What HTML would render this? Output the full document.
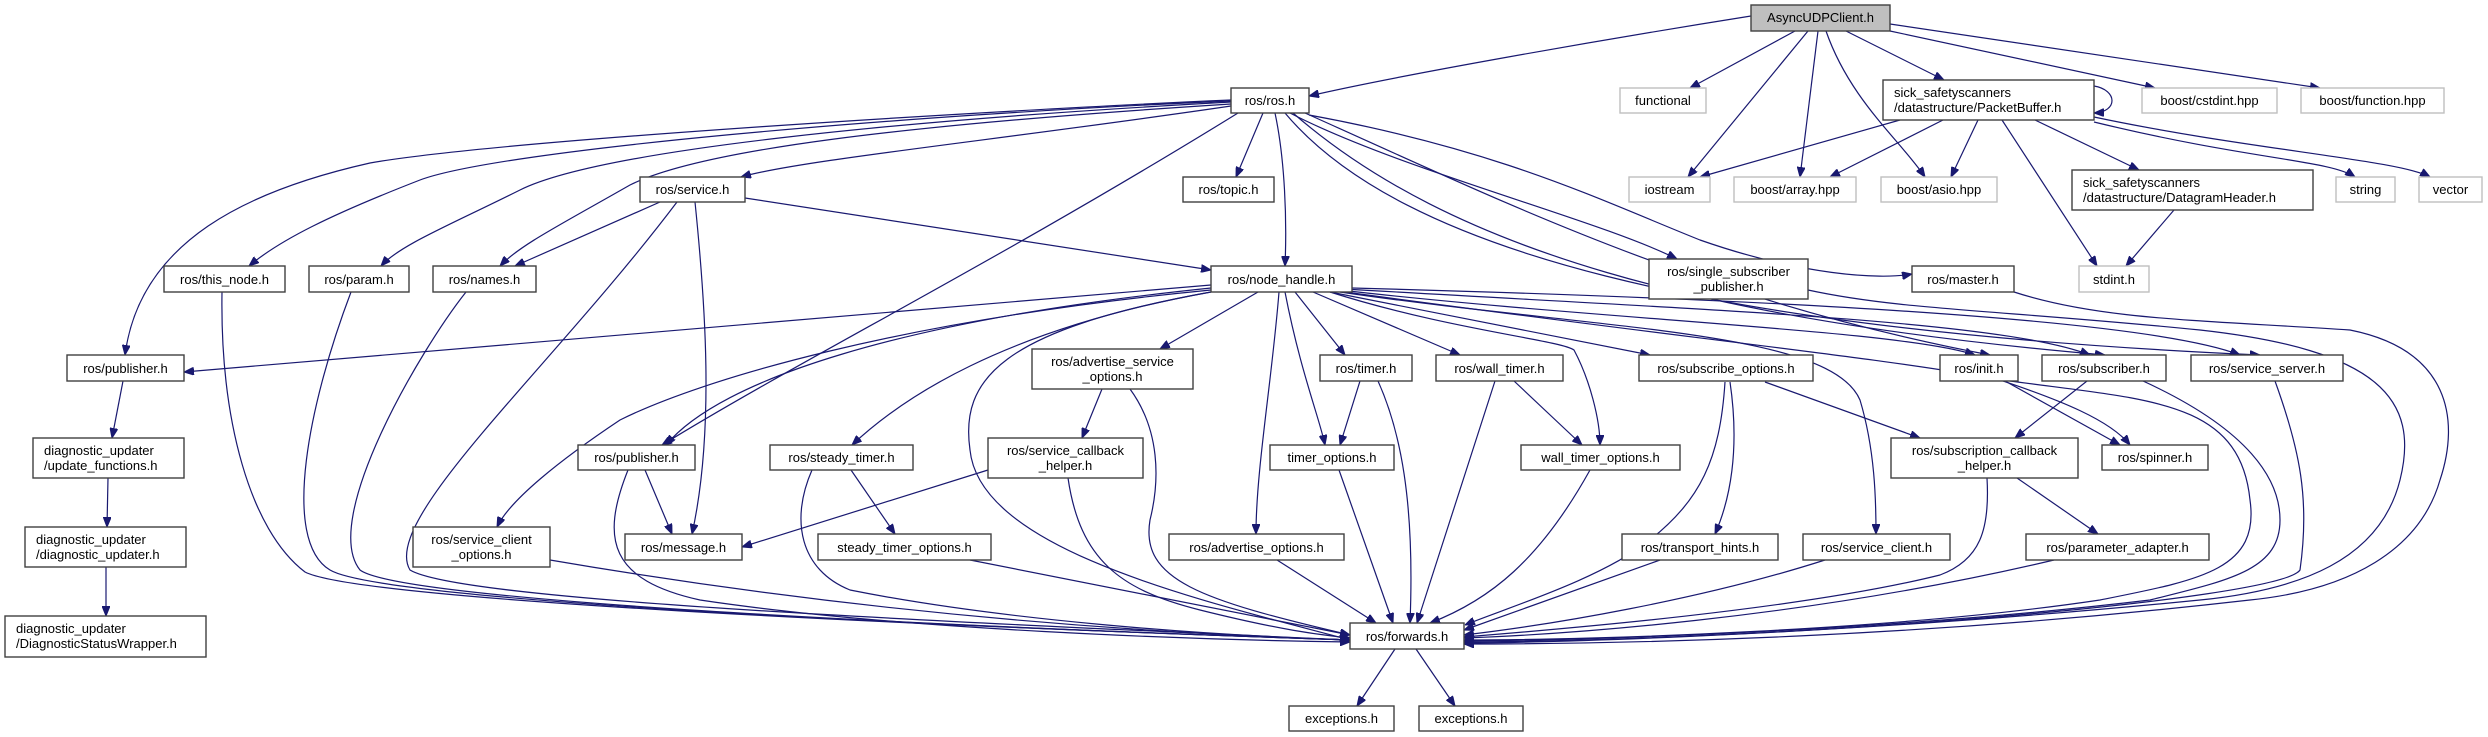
<!DOCTYPE html>
<html><head><meta charset="utf-8"><style>
html,body{margin:0;padding:0;background:#fff;}
svg{display:block;}
text{font-family:"Liberation Sans",sans-serif;font-size:13px;fill:#000;}
.e{fill:none;stroke:#191970;stroke-width:1.2;}
.n{fill:#fff;stroke:#404040;stroke-width:1.4;}
.g{fill:#fff;stroke:#bfbfbf;stroke-width:1.4;}
</style></head><body>
<svg width="2488" height="737" viewBox="0 0 2488 737" xmlns="http://www.w3.org/2000/svg">
<defs><marker id="a" viewBox="0 0 10 8" refX="10" refY="4" markerWidth="10" markerHeight="8" orient="auto" markerUnits="userSpaceOnUse"><path d="M0,0 L10,4 L0,8 z" fill="#191970" stroke="#191970"/></marker></defs>
<g class="e" marker-end="url(#a)">
<path d="M1751,16 C1600,40 1400,75 1309,96"/>
<path d="M1795,31 L1690,88"/>
<path d="M1808,31 L1688,177"/>
<path d="M1818,31 L1800,177"/>
<path d="M1826,31 C1850,100 1900,140 1925,177"/>
<path d="M1846,31 L1944,80"/>
<path d="M1890,31 L2155,88"/>
<path d="M1890,24 L2320,88"/>
<path d="M2094,86 C2118,90 2118,112 2094,113"/>
<path d="M1900,120 L1700,177"/>
<path d="M1943,120 L1830,177"/>
<path d="M1978,120 L1951,177"/>
<path d="M2002,120 L2097,266"/>
<path d="M2035,120 L2139,170"/>
<path d="M2094,122 C2250,160 2330,160 2355,177"/>
<path d="M2094,117 C2250,150 2400,160 2430,177"/>
<path d="M2174,210 L2126,266"/>
<path d="M1231,100 C1000,110 500,140 370,163 C250,190 140,240 125,355"/>
<path d="M1231,101 C900,115 500,150 420,180 C330,215 280,240 249,266"/>
<path d="M1231,102 C900,120 600,150 520,190 C450,225 400,245 381,266"/>
<path d="M1231,104 C900,125 700,150 630,185 C560,225 520,245 500,266"/>
<path d="M1231,106 C1000,140 800,160 741,177"/>
<path d="M1263,113 L1236,177"/>
<path d="M1275,113 C1285,160 1287,220 1285,266"/>
<path d="M1238,113 C1000,260 800,360 662,445"/>
<path d="M1290,113 C1400,170 1600,220 1677,259"/>
<path d="M1309,115 C1500,150 1600,200 1700,240 C1800,275 1880,280 1912,274"/>
<path d="M1305,113 C1500,200 1700,300 1990,355"/>
<path d="M1293,113 C1450,250 1700,320 2105,355"/>
<path d="M1285,113 C1400,250 1700,330 2260,355"/>
<path d="M660,202 L515,266"/>
<path d="M745,198 L1211,270"/>
<path d="M695,202 C705,300 715,430 692,534"/>
<path d="M677,202 C550,370 380,520 410,570 C460,600 900,620 1350,640"/>
<path d="M222,292 C220,420 250,530 305,572 C360,600 900,625 1350,640"/>
<path d="M351,292 C310,400 280,540 330,570 C380,600 900,625 1350,640"/>
<path d="M466,292 C420,350 320,520 360,570 C400,600 900,625 1350,640"/>
<path d="M123,381 L112,438"/>
<path d="M108,478 L107,527"/>
<path d="M106,567 L106,616"/>
<path d="M1211,285 L184,372"/>
<path d="M1211,288 C900,320 720,380 666,445"/>
<path d="M1211,290 C900,320 700,380 620,420 C560,460 510,500 497,527"/>
<path d="M1211,292 C1000,330 900,400 852,445"/>
<path d="M1211,292 C1000,330 960,380 970,450 C980,550 1200,600 1350,640"/>
<path d="M1258,292 L1160,349"/>
<path d="M1279,292 C1272,380 1256,470 1256,534"/>
<path d="M1285,292 C1300,370 1320,420 1325,445"/>
<path d="M1295,292 L1345,355"/>
<path d="M1313,292 L1460,355"/>
<path d="M1330,292 C1450,330 1560,340 1574,350 C1590,380 1600,420 1600,445"/>
<path d="M1330,292 L1650,355"/>
<path d="M1340,292 C1600,330 1830,330 1860,400 C1875,450 1876,500 1876,534"/>
<path d="M1340,290 C1600,320 1900,330 1975,355"/>
<path d="M1345,289 C1700,310 2000,320 2090,355"/>
<path d="M1352,288 C1800,300 2150,320 2240,355"/>
<path d="M1345,292 C1700,340 1900,360 2000,380 C2060,400 2110,420 2130,445"/>
<path d="M645,470 L672,534"/>
<path d="M628,470 C600,540 610,580 700,600 C900,630 1200,640 1350,642"/>
<path d="M851,470 L895,534"/>
<path d="M812,470 C790,520 800,570 850,590 C1000,620 1200,635 1350,640"/>
<path d="M1102,389 L1082,438"/>
<path d="M1130,389 C1160,430 1160,480 1150,520 C1140,580 1200,600 1350,635"/>
<path d="M988,470 L742,547"/>
<path d="M1068,478 C1080,560 1120,590 1200,610 C1280,630 1320,635 1350,638"/>
<path d="M1360,381 L1340,445"/>
<path d="M1378,381 C1400,430 1415,500 1410,623"/>
<path d="M1339,470 L1393,623"/>
<path d="M1495,381 L1417,623"/>
<path d="M1514,381 L1582,445"/>
<path d="M1590,470 C1540,560 1490,600 1430,623"/>
<path d="M1730,382 C1740,450 1730,500 1715,534"/>
<path d="M1765,382 L1920,438"/>
<path d="M1725,382 C1720,460 1700,500 1650,540 C1600,580 1500,610 1465,625"/>
<path d="M1660,560 L1464,630"/>
<path d="M550,560 C900,620 1200,635 1350,640"/>
<path d="M970,560 L1350,635"/>
<path d="M1277,560 L1376,623"/>
<path d="M1825,560 C1700,600 1550,625 1464,635"/>
<path d="M2017,478 L2098,534"/>
<path d="M1987,478 C1990,530 1980,560 1940,575 C1800,610 1550,630 1464,637"/>
<path d="M2054,560 C1800,620 1550,635 1464,638"/>
<path d="M2087,381 L2015,438"/>
<path d="M2005,381 L2120,445"/>
<path d="M2010,381 C2150,400 2240,400 2250,500 C2260,570 2200,580 2100,600 C1900,630 1600,640 1464,640"/>
<path d="M2143,381 C2250,430 2280,480 2280,520 C2280,570 2230,580 2150,600 C1900,630 1600,640 1464,641"/>
<path d="M2275,381 C2300,450 2310,500 2300,570 C2280,600 1800,640 1464,642"/>
<path d="M1808,290 C1900,310 2000,310 2200,330 C2380,350 2420,400 2400,480 C2380,560 2300,590 2200,600 C1900,630 1600,642 1464,643"/>
<path d="M2014,292 C2100,320 2200,320 2350,330 C2450,350 2460,420 2440,480 C2420,550 2350,590 2250,600 C1900,640 1600,644 1464,644"/>
<path d="M1395,649 L1357,706"/>
<path d="M1416,649 L1455,706"/>
</g>
<g>
<rect x="1751" y="5" width="139" height="26" fill="#bfbfbf" stroke="#404040" stroke-width="1.4"/><text x="1820.5" y="22" text-anchor="middle">AsyncUDPClient.h</text>
<rect class="n" x="1231" y="88" width="78" height="25"/><text x="1270" y="105" text-anchor="middle">ros/ros.h</text>
<rect class="g" x="1620" y="88" width="86" height="25"/><text x="1663" y="105" text-anchor="middle">functional</text>
<rect class="n" x="1883" y="80" width="211" height="40"/><text x="1894" y="97">sick_safetyscanners</text><text x="1894" y="112">/datastructure/PacketBuffer.h</text>
<rect class="g" x="2142" y="88" width="135" height="25"/><text x="2209.5" y="105" text-anchor="middle">boost/cstdint.hpp</text>
<rect class="g" x="2301" y="88" width="143" height="25"/><text x="2372.5" y="105" text-anchor="middle">boost/function.hpp</text>
<rect class="n" x="640" y="177" width="105" height="25"/><text x="692.5" y="194" text-anchor="middle">ros/service.h</text>
<rect class="n" x="1183" y="177" width="91" height="25"/><text x="1228.5" y="194" text-anchor="middle">ros/topic.h</text>
<rect class="g" x="1629" y="177" width="81" height="25"/><text x="1669.5" y="194" text-anchor="middle">iostream</text>
<rect class="g" x="1734" y="177" width="122" height="25"/><text x="1795" y="194" text-anchor="middle">boost/array.hpp</text>
<rect class="g" x="1881" y="177" width="116" height="25"/><text x="1939" y="194" text-anchor="middle">boost/asio.hpp</text>
<rect class="n" x="2072" y="170" width="241" height="40"/><text x="2083" y="187">sick_safetyscanners</text><text x="2083" y="202">/datastructure/DatagramHeader.h</text>
<rect class="g" x="2336" y="177" width="59" height="25"/><text x="2365.5" y="194" text-anchor="middle">string</text>
<rect class="g" x="2419" y="177" width="63" height="25"/><text x="2450.5" y="194" text-anchor="middle">vector</text>
<rect class="n" x="164" y="266" width="121" height="26"/><text x="224.5" y="284" text-anchor="middle">ros/this_node.h</text>
<rect class="n" x="309" y="266" width="100" height="26"/><text x="359" y="284" text-anchor="middle">ros/param.h</text>
<rect class="n" x="433" y="266" width="103" height="26"/><text x="484.5" y="284" text-anchor="middle">ros/names.h</text>
<rect class="n" x="1211" y="266" width="141" height="26"/><text x="1281.5" y="284" text-anchor="middle">ros/node_handle.h</text>
<rect class="n" x="1649" y="259" width="159" height="40"/><text x="1728.5" y="276" text-anchor="middle">ros/single_subscriber</text><text x="1728.5" y="291" text-anchor="middle">_publisher.h</text>
<rect class="n" x="1912" y="266" width="102" height="26"/><text x="1963" y="284" text-anchor="middle">ros/master.h</text>
<rect class="g" x="2079" y="266" width="70" height="26"/><text x="2114" y="284" text-anchor="middle">stdint.h</text>
<rect class="n" x="67" y="355" width="117" height="26"/><text x="125.5" y="373" text-anchor="middle">ros/publisher.h</text>
<rect class="n" x="1032" y="349" width="161" height="40"/><text x="1112.5" y="366" text-anchor="middle">ros/advertise_service</text><text x="1112.5" y="381" text-anchor="middle">_options.h</text>
<rect class="n" x="1320" y="355" width="92" height="26"/><text x="1366" y="373" text-anchor="middle">ros/timer.h</text>
<rect class="n" x="1436" y="355" width="127" height="26"/><text x="1499.5" y="373" text-anchor="middle">ros/wall_timer.h</text>
<rect class="n" x="1639" y="355" width="174" height="26"/><text x="1726" y="373" text-anchor="middle">ros/subscribe_options.h</text>
<rect class="n" x="1940" y="355" width="78" height="26"/><text x="1979" y="373" text-anchor="middle">ros/init.h</text>
<rect class="n" x="2042" y="355" width="124" height="26"/><text x="2104" y="373" text-anchor="middle">ros/subscriber.h</text>
<rect class="n" x="2191" y="355" width="152" height="26"/><text x="2267" y="373" text-anchor="middle">ros/service_server.h</text>
<rect class="n" x="33" y="438" width="151" height="40"/><text x="44" y="455">diagnostic_updater</text><text x="44" y="470">/update_functions.h</text>
<rect class="n" x="578" y="445" width="117" height="25"/><text x="636.5" y="462" text-anchor="middle">ros/publisher.h</text>
<rect class="n" x="770" y="445" width="143" height="25"/><text x="841.5" y="462" text-anchor="middle">ros/steady_timer.h</text>
<rect class="n" x="988" y="438" width="155" height="40"/><text x="1065.5" y="455" text-anchor="middle">ros/service_callback</text><text x="1065.5" y="470" text-anchor="middle">_helper.h</text>
<rect class="n" x="1270" y="445" width="124" height="25"/><text x="1332" y="462" text-anchor="middle">timer_options.h</text>
<rect class="n" x="1521" y="445" width="159" height="25"/><text x="1600.5" y="462" text-anchor="middle">wall_timer_options.h</text>
<rect class="n" x="1891" y="438" width="187" height="40"/><text x="1984.5" y="455" text-anchor="middle">ros/subscription_callback</text><text x="1984.5" y="470" text-anchor="middle">_helper.h</text>
<rect class="n" x="2102" y="445" width="106" height="25"/><text x="2155" y="462" text-anchor="middle">ros/spinner.h</text>
<rect class="n" x="25" y="527" width="161" height="40"/><text x="36" y="544">diagnostic_updater</text><text x="36" y="559">/diagnostic_updater.h</text>
<rect class="n" x="413" y="527" width="137" height="40"/><text x="481.5" y="544" text-anchor="middle">ros/service_client</text><text x="481.5" y="559" text-anchor="middle">_options.h</text>
<rect class="n" x="625" y="534" width="117" height="26"/><text x="683.5" y="552" text-anchor="middle">ros/message.h</text>
<rect class="n" x="818" y="534" width="173" height="26"/><text x="904.5" y="552" text-anchor="middle">steady_timer_options.h</text>
<rect class="n" x="1169" y="534" width="175" height="26"/><text x="1256.5" y="552" text-anchor="middle">ros/advertise_options.h</text>
<rect class="n" x="1622" y="534" width="156" height="26"/><text x="1700" y="552" text-anchor="middle">ros/transport_hints.h</text>
<rect class="n" x="1803" y="534" width="147" height="26"/><text x="1876.5" y="552" text-anchor="middle">ros/service_client.h</text>
<rect class="n" x="2026" y="534" width="183" height="26"/><text x="2117.5" y="552" text-anchor="middle">ros/parameter_adapter.h</text>
<rect class="n" x="5" y="616" width="201" height="41"/><text x="16" y="633">diagnostic_updater</text><text x="16" y="648">/DiagnosticStatusWrapper.h</text>
<rect class="n" x="1350" y="623" width="114" height="26"/><text x="1407" y="641" text-anchor="middle">ros/forwards.h</text>
<rect class="n" x="1289" y="706" width="105" height="25"/><text x="1341.5" y="723" text-anchor="middle">exceptions.h</text>
<rect class="n" x="1419" y="706" width="104" height="25"/><text x="1471" y="723" text-anchor="middle">exceptions.h</text>
</g>
</svg>
</body></html>
